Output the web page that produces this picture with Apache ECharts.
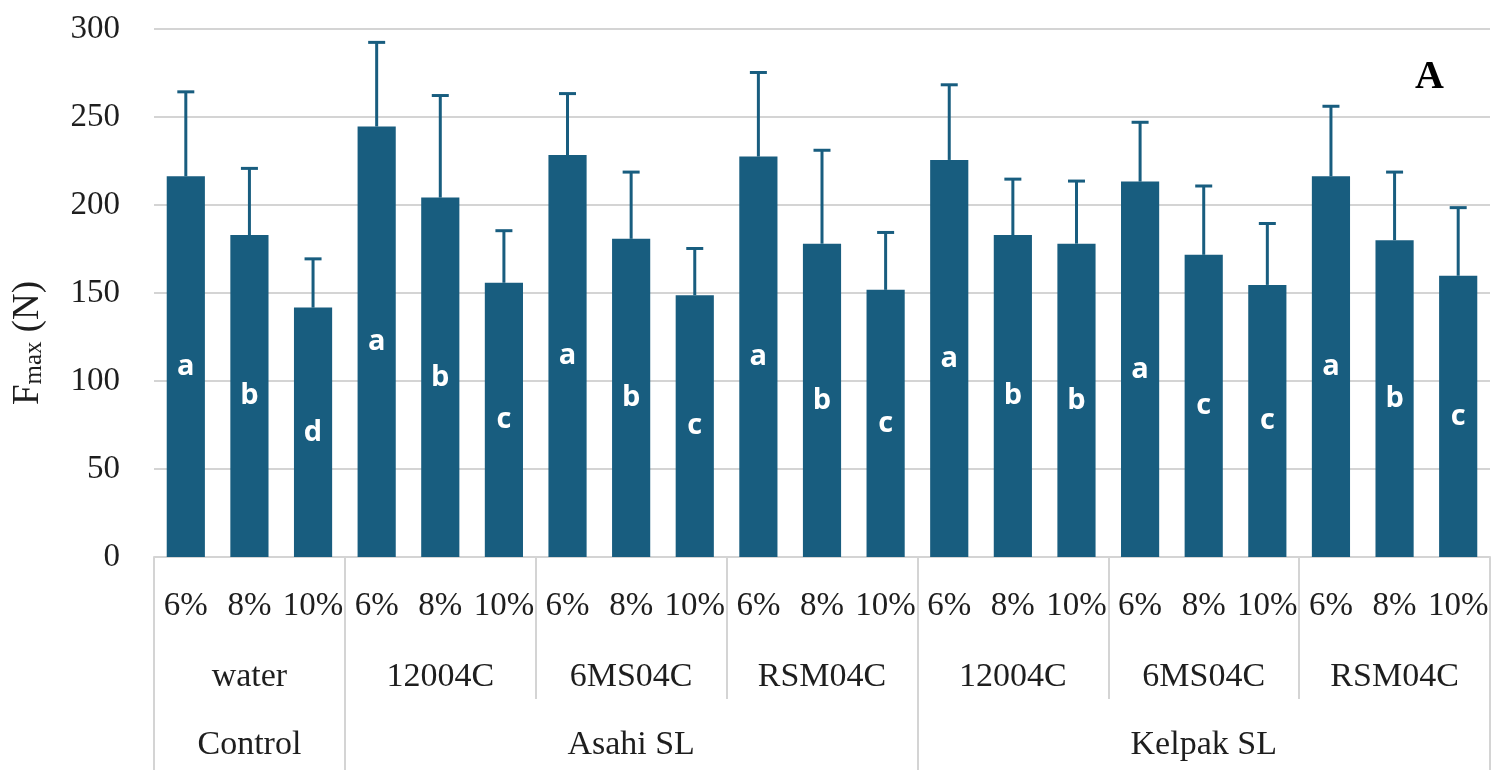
<!DOCTYPE html>
<html>
<head>
<meta charset="utf-8">
<script src="https://cdn.jsdelivr.net/npm/echarts@6/dist/echarts.min.js"></script>
<style>
html,body{margin:0;padding:0;background:#fff;}
#chart{width:1502px;height:775px;}
</style>
</head>
<body>
<div id="chart"></div>
<script>
// ---- data ----
const concentrations = ['6%','8%','10%','6%','8%','10%','6%','8%','10%','6%','8%','10%','6%','8%','10%','6%','8%','10%','6%','8%','10%'];
const products = ['water','12004C','6MS04C','RSM04C','12004C','6MS04C','RSM04C'];
const treatments = ['Control','Asahi SL','Kelpak SL'];
const treatmentSizes = [3, 9, 9];
const fmaxMean = [216.3,182.9,141.7,244.6,204.2,155.8,228.4,180.8,148.7,227.5,178.0,151.8,225.6,182.9,178.0,213.3,171.7,154.6,216.3,180.0,159.8];
const fmaxSD = [48.0,37.9,27.7,47.8,58.0,29.6,34.9,37.9,26.6,47.8,53.1,32.6,42.7,31.8,35.6,33.7,39.1,34.9,39.8,38.7,38.7];
const letters = ['a','b','d','a','b','c','a','b','c','a','b','c','a','b','b','a','c','c','a','b','c'];
const yMin = 0, yMax = 300, yInterval = 50;
const panelLabel = 'A';

// ---- derived helpers ----
const barColor = '#185d7f';
const serif = 'Liberation Serif';
const textColor = '#1e1e1e';
const sepColor = '#d4d4d4';

// third-level labels: treatment name at the middle category of its group
const treatmentLabels = [];
const treatmentBoundaries = new Set();
let start = 0;
treatments.forEach((t, k) => {
  const n = treatmentSizes[k];
  treatmentBoundaries.add(start);
  for (let j = 0; j < n; j++) {
    treatmentLabels.push(j === Math.floor(n / 2) ? t : '');
  }
  start += n;
});

const chart = echarts.init(document.getElementById('chart'), null, {renderer: 'canvas'});

const option = {
  animation: false,
  backgroundColor: '#fff',
  title: {
    text: panelLabel,
    right: 58,
    top: 58,
    padding: 0,
    textStyle: {fontFamily: serif, fontWeight: 'bold', fontSize: 40, color: '#000'}
  },
  grid: {left: 154, right: 12, top: 29, bottom: 218, containLabel: false},
  xAxis: [
    {
      type: 'category',
      position: 'bottom',
      data: concentrations,
      axisLine: {show: true, lineStyle: {color: sepColor, width: 2}},
      axisTick: {show: false},
      axisLabel: {interval: 0, margin: 33, fontFamily: serif, fontSize: 33, color: textColor}
    },
    {
      type: 'category',
      position: 'bottom',
      data: products,
      axisLine: {show: false},
      axisTick: {show: true, interval: 0, length: 142, lineStyle: {color: sepColor, width: 2}},
      axisLabel: {interval: 0, margin: 103, fontFamily: serif, fontSize: 34, color: textColor}
    },
    {
      type: 'category',
      position: 'bottom',
      data: treatmentLabels,
      axisLine: {show: false},
      axisTick: {
        show: true,
        interval: function (index) { return treatmentBoundaries.has(index); },
        length: 213,
        lineStyle: {color: sepColor, width: 2}
      },
      axisLabel: {interval: 0, margin: 171, fontFamily: serif, fontSize: 34, color: textColor}
    }
  ],
  yAxis: {
    type: 'value',
    min: yMin,
    max: yMax,
    interval: yInterval,
    axisLine: {show: false},
    axisTick: {show: false},
    splitLine: {lineStyle: {color: sepColor, width: 2}},
    axisLabel: {margin: 34, fontFamily: serif, fontSize: 33, color: textColor},
    name: '{f|F}{s|max}{f| (N)}',
    nameLocation: 'middle',
    nameGap: 107,
    nameTextStyle: {
      color: textColor,
      padding: [0, 100, 0, 0],
      rich: {
        f: {fontFamily: serif, fontSize: 37, color: textColor, lineHeight: 37},
        s: {fontFamily: serif, fontSize: 25, color: textColor, lineHeight: 16, verticalAlign: 'bottom'}
      }
    }
  },
  series: [
    {
      type: 'bar',
      xAxisIndex: 0,
      data: fmaxMean,
      barCategoryGap: '40%',
      itemStyle: {color: barColor},
      label: {
        show: true,
        position: 'inside',
        formatter: function (p) { return letters[p.dataIndex]; },
        color: '#fff',
        fontFamily: 'Open Sans',
        fontWeight: 'bold',
        fontSize: 29
      },
      z: 2
    },
    {
      type: 'custom',
      xAxisIndex: 0,
      data: fmaxMean.map(function (m, i) { return [i, m, fmaxSD[i]]; }),
      encode: {x: 0, y: 1},
      z: 3,
      renderItem: function (params, api) {
        const i = api.value(0);
        const m = api.value(1);
        const s = api.value(2);
        const base = api.coord([i, m]);
        const top = api.coord([i, m + s]);
        const hw = 8.5;
        const st = {stroke: barColor, lineWidth: 3};
        return {
          type: 'group',
          children: [
            {type: 'line', shape: {x1: base[0], y1: base[1], x2: top[0], y2: top[1]}, style: st},
            {type: 'line', shape: {x1: top[0] - hw, y1: top[1], x2: top[0] + hw, y2: top[1]}, style: st}
          ]
        };
      }
    }
  ]
};

chart.setOption(option);
</script>
</body>
</html>
